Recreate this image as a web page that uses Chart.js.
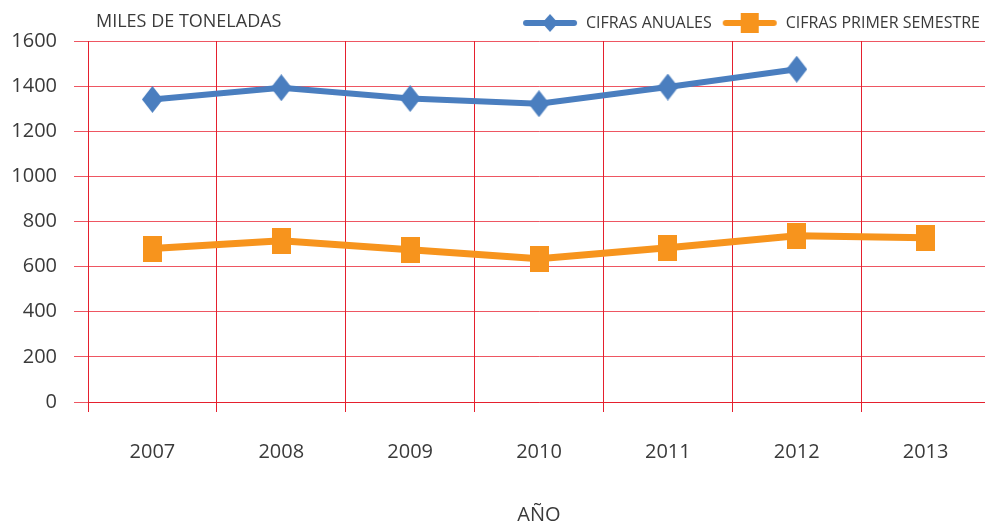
<!DOCTYPE html>
<html>
<head>
<meta charset="utf-8">
<script src="https://cdn.jsdelivr.net/npm/chart.js@4"></script>
<style>
  html, body { margin: 0; padding: 0; background: #fff; overflow: hidden; }
  #wrap { width: 985px; height: 525px; overflow: hidden; }
  canvas { display: block; }
</style>
</head>
<body>
<div id="wrap"><canvas id="chart" width="990" height="525"></canvas></div>
<script>
// years on the x axis
const years = ["2007", "2008", "2009", "2010", "2011", "2012", "2013"];
// miles de toneladas
const cifrasAnuales = [1341, 1393, 1345, 1322, 1396, 1475, null];
const cifrasSemestre = [680, 715, 675, 635, 684, 737, 728];
const yTicks = [0, 200, 400, 600, 800, 1000, 1200, 1400, 1600];

const BLUE = "#4A7EBF";
const ORANGE = "#F7941D";
const TEXT = "#3a3a3a";
const FONT = "'Open Sans', 'DejaVu Sans', sans-serif";

// markers drawn into small canvases (diamond / tall square like the original)
const makeMarker = (w, h, color, shape) => {
  const c = document.createElement("canvas");
  c.width = w; c.height = h;
  const ctx = c.getContext("2d");
  ctx.fillStyle = color;
  if (shape === "diamond") {
    ctx.beginPath();
    ctx.moveTo(w / 2, 0); ctx.lineTo(w, h / 2); ctx.lineTo(w / 2, h); ctx.lineTo(0, h / 2);
    ctx.closePath(); ctx.fill();
  } else {
    ctx.fillRect(0, 0, w, h);
  }
  return c;
};

// legend icon: line with marker in the middle
const makeLegendIcon = (color, shape) => {
  const w = 56, h = 20;
  const c = document.createElement("canvas");
  c.width = w; c.height = h;
  const ctx = c.getContext("2d");
  ctx.strokeStyle = color;
  ctx.lineWidth = 6;
  ctx.lineCap = "round";
  ctx.beginPath(); ctx.moveTo(4, h / 2); ctx.lineTo(w - 4, h / 2); ctx.stroke();
  ctx.fillStyle = color;
  if (shape === "diamond") {
    ctx.beginPath();
    ctx.moveTo(w / 2, 1); ctx.lineTo(w / 2 + 8, h / 2); ctx.lineTo(w / 2, h - 1); ctx.lineTo(w / 2 - 8, h / 2);
    ctx.closePath(); ctx.fill();
  } else {
    ctx.fillRect(w / 2 - 9, 0, 18, 20);
  }
  return c;
};

const legendIcons = [makeLegendIcon(BLUE, "diamond"), makeLegendIcon(ORANGE, "square")];

// y axis title sits inside the top-left corner of the plot
const yTitlePlugin = {
  id: "yTitle",
  afterDraw(chart) {
    const { ctx, chartArea } = chart;
    ctx.save();
    ctx.font = "18px " + FONT;
    ctx.fillStyle = TEXT;
    ctx.textBaseline = "middle";
    ctx.textAlign = "left";
    ctx.fillText("MILES DE TONELADAS", chartArea.left + 8, 22);
    ctx.restore();
  }
};

new Chart(document.getElementById("chart"), {
  type: "line",
  data: {
    labels: years,
    datasets: [
      {
        label: "CIFRAS ANUALES",
        data: cifrasAnuales,
        borderColor: BLUE,
        backgroundColor: BLUE,
        borderWidth: 6,
        tension: 0,
        pointStyle: makeMarker(21, 27, BLUE, "diamond"),
        pointRadius: 10,
        pointHoverRadius: 10,
      },
      {
        label: "CIFRAS PRIMER SEMESTRE",
        data: cifrasSemestre,
        borderColor: ORANGE,
        backgroundColor: ORANGE,
        borderWidth: 7,
        tension: 0,
        pointStyle: makeMarker(19, 26, ORANGE, "square"),
        pointRadius: 10,
        pointHoverRadius: 10,
      },
    ],
  },
  options: {
    responsive: false,
    animation: false,
    // canvas is a few px wider than the window: plot runs past the right edge, as in the original
    layout: { autoPadding: false, padding: { left: 0, right: 0, top: 5, bottom: 0 } },
    plugins: {
      legend: {
        position: "top",
        align: "end",
        labels: {
          usePointStyle: true,
          pointStyleWidth: 56,
          padding: 10,
          color: TEXT,
          font: { family: FONT, size: 16 },
          generateLabels: (chart) =>
            Chart.defaults.plugins.legend.labels.generateLabels(chart).map((l, i) => ({ ...l, pointStyle: legendIcons[i] })),
        },
      },
      tooltip: { enabled: false },
    },
    scales: {
      x: {
        offset: true,
        grid: { offset: true, color: "#E5202E", lineWidth: 1, tickLength: 10 },
        border: { color: "#E5202E" },
        ticks: { color: TEXT, font: { family: FONT, size: 20 }, padding: 28 },
        title: { display: true, text: "AÑO", color: TEXT, font: { family: FONT, size: 20, lineHeight: 1 }, padding: { top: 13, bottom: 0 } },
        afterFit: (axis) => { axis.paddingLeft = 0; axis.paddingRight = 0; },
      },
      y: {
        min: 0,
        max: 1600,
        afterBuildTicks: (axis) => { axis.ticks = yTicks.map((v) => ({ value: v })); },
        afterFit: (axis) => { axis.width = 88; },
        grid: { color: "rgba(232,30,45,0.75)", lineWidth: 1, tickLength: 14 },
        border: { color: "#E5202E" },
        ticks: { color: TEXT, font: { family: FONT, size: 20 }, padding: 17, callback: (v) => String(v) },
      },
    },
  },
  plugins: [yTitlePlugin],
});
</script>
</body>
</html>
